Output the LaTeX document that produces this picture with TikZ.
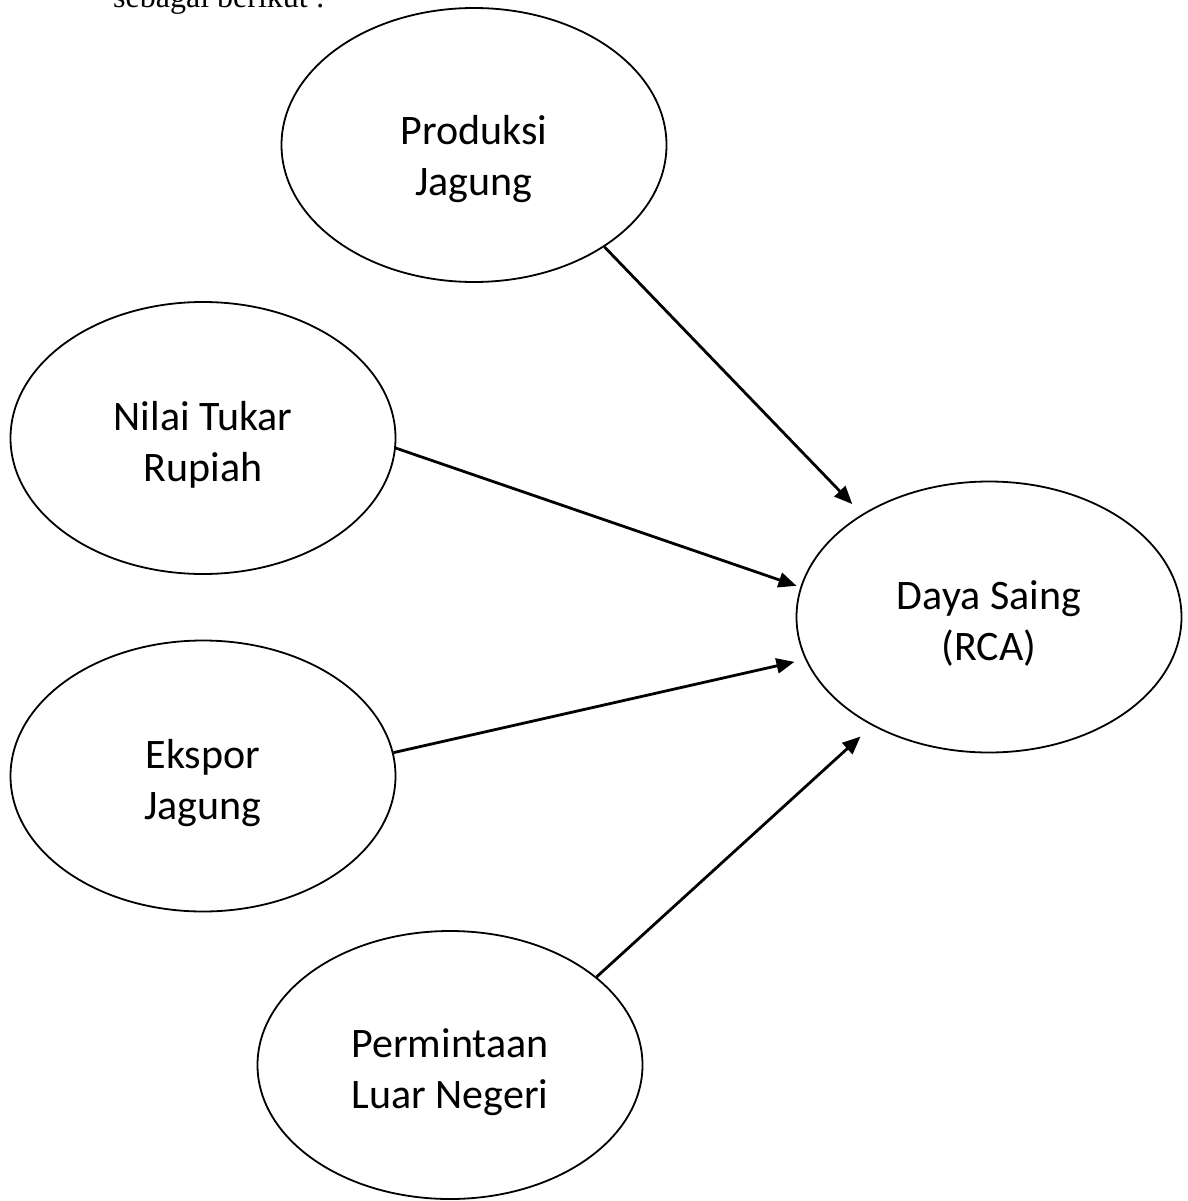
\documentclass[tikz,border=0pt]{standalone}
\usepackage{fontspec}
\setmainfont{Carlito}
\newfontfamily\seriff{Liberation Serif}
\usetikzlibrary{shapes.geometric,arrows.meta}
\begin{document}
\begin{tikzpicture}[x=1pt,y=-1pt,
  var/.style={ellipse,draw,line width=1.8pt,inner sep=0pt,minimum width=385pt,
    align=center,font=\fontsize{42}{51}\selectfont,text height=100pt,text depth=14pt},
  link/.style={line width=2.8pt,-{Triangle[length=18pt,width=15pt]}}]
\useasboundingbox (0,0) rectangle (1187,1201);
\node[anchor=base west,font=\seriff\fontsize{32}{38}\selectfont,inner sep=0pt] (intro) at (113,8) {sebagai berikut :};
\node[var,minimum height=274pt,text height=107pt,text depth=7pt] (prod) at (474,145) {Produksi\\Jagung};
\node[var,minimum height=272pt] (nilai) at (203,438) {Nilai Tukar\\Rupiah};
\node[var,minimum height=271pt] (eksp) at (203,776) {Ekspor\\Jagung};
\node[var,minimum height=271pt] (daya) at (989,617) {Daya Saing\\(RCA)};
\node[var,minimum height=268pt] (perm) at (450,1065) {Permintaan\\Luar Negeri};
\draw[link,shorten >=14pt] (prod.-38) -- (daya.141);
\draw[link,shorten >=4pt] (nilai.-3) -- (daya.171);
\draw[link,shorten >=11pt] (eksp.7) -- (daya.193.5);
\draw[link,shorten >=16pt] (perm.31) -- (daya.223.6);
\end{tikzpicture}
\end{document}
